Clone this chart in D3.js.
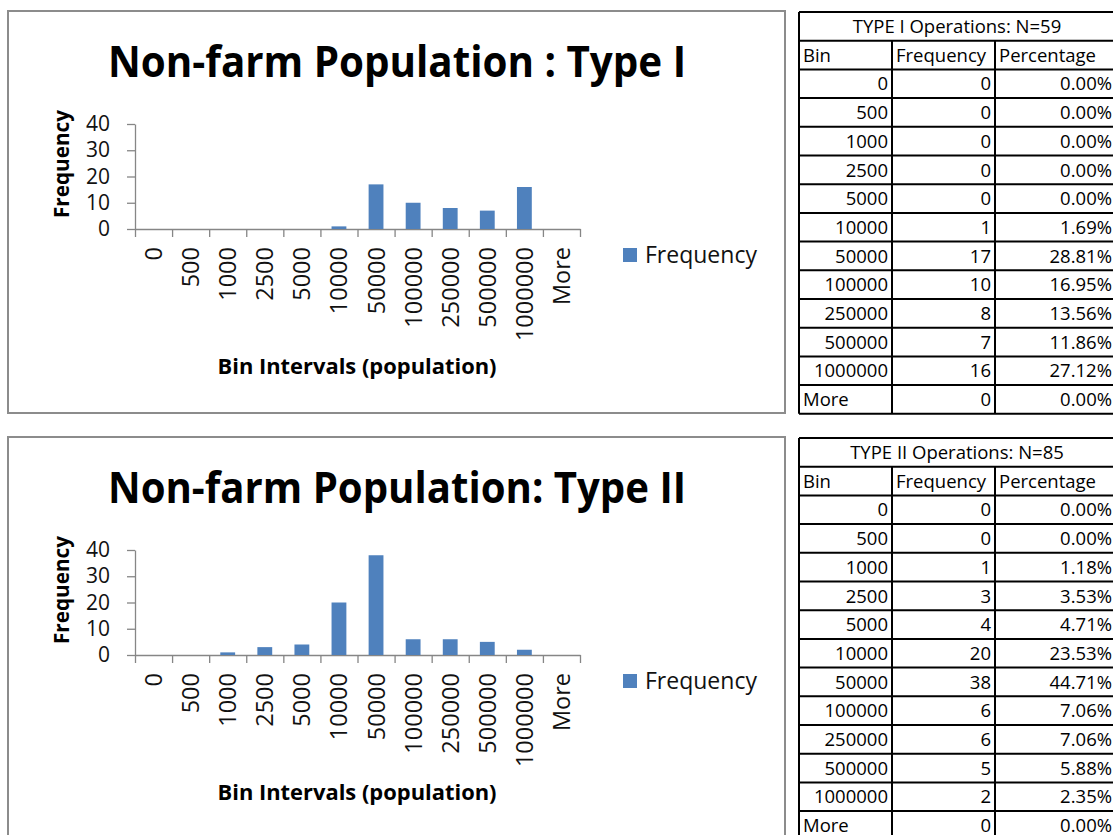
<!DOCTYPE html>
<html>
<head>
<meta charset="utf-8">
<script src="https://cdn.jsdelivr.net/npm/d3@7"></script>
<style>
html,body{margin:0;padding:0;background:#fff;}
svg{display:block;}
</style>
</head>
<body>
<script>
// ---------- data ----------
const categories = ["0","500","1000","2500","5000","10000","50000","100000","250000","500000","1000000","More"];
const freqTypeI  = [0,0,0,0,0,1,17,10,8,7,16,0];
const freqTypeII = [0,0,1,3,4,20,38,6,6,5,2,0];
const pctTypeI  = ["0.00%","0.00%","0.00%","0.00%","0.00%","1.69%","28.81%","16.95%","13.56%","11.86%","27.12%","0.00%"];
const pctTypeII = ["0.00%","0.00%","1.18%","3.53%","4.71%","23.53%","44.71%","7.06%","7.06%","5.88%","2.35%","0.00%"];
const yTicks = [0,10,20,30,40];
const chartTitles = ["Non-farm Population : Type I","Non-farm Population: Type II"];
const tableTitles = ["TYPE I Operations: N=59","TYPE II Operations: N=85"];
const tableHeaders = ["Bin","Frequency","Percentage"];
const seriesName = "Frequency";
const xTitle = "Bin Intervals (population)";
const yTitle = "Frequency";

// ---------- drawing ----------
const FONT = "'Open Sans', 'Noto Sans', sans-serif";
const BAR = "#4F81BD";
const AXIS = "#868686";

const svg = d3.select("body").append("svg").attr("width",1113).attr("height",835);

function drawChart(oy, title, values) {
  const g = svg.append("g");
  g.append("rect").attr("x",8).attr("y",oy).attr("width",777).attr("height",402)
    .attr("fill","#fff").attr("stroke","#8c8c8c").attr("stroke-width",2);

  g.append("text").attr("x",397).attr("y",oy+66).attr("text-anchor","middle")
    .attr("font-family",FONT).attr("font-weight",700).attr("font-size",43)
    .attr("textLength",578).attr("lengthAdjust","spacingAndGlyphs").text(title);

  const x = d3.scaleBand().domain(categories).range([135,580]).padding(0);
  const xi = d3.scaleLinear().domain([0,categories.length]).range([135,580]);
  const y = d3.scaleLinear().domain([0,40]).range([oy+218, oy+113]);

  // y axis
  const ya = g.append("g").attr("transform","translate(135,0)")
    .call(d3.axisLeft(y).tickValues(yTicks).tickSize(8).tickSizeOuter(0).tickPadding(17));
  ya.select(".domain").attr("stroke",AXIS).attr("stroke-width",1.3);
  ya.selectAll(".tick line").attr("stroke",AXIS).attr("stroke-width",1.3);
  ya.selectAll("text").attr("font-family",FONT).attr("font-size",21).attr("fill","#111");

  // x axis line + boundary ticks
  const xa = g.append("g").attr("transform",`translate(0,${y(0)})`)
    .call(d3.axisBottom(xi).ticks(categories.length).tickSize(8).tickSizeOuter(0).tickFormat(""));
  xa.select(".domain").attr("stroke",AXIS).attr("stroke-width",1.3);
  xa.selectAll(".tick line").attr("stroke",AXIS).attr("stroke-width",1.3);

  // bars
  g.selectAll("rect.bar").data(values).join("rect").attr("class","bar")
    .attr("x",(d,i)=>x(categories[i]) + x.bandwidth()*0.3)
    .attr("width",x.bandwidth()*0.4)
    .attr("y",d=>y(d)).attr("height",d=>y(0)-y(d))
    .attr("fill",BAR);

  // category labels
  const xl = g.append("g").attr("transform",`translate(0,${y(0)})`)
    .call(d3.axisBottom(x).tickSize(0).tickPadding(0));
  xl.select(".domain").remove();
  xl.selectAll("text").attr("transform","rotate(-90)").attr("text-anchor","end")
    .attr("x",-18).attr("y",0).attr("dy","0.36em")
    .attr("font-family",FONT).attr("font-size",23.5).attr("fill","#111");

  // axis titles
  g.append("text").attr("x",357).attr("y",oy+363).attr("text-anchor","middle")
    .attr("font-family",FONT).attr("font-weight",700).attr("font-size",22)
    .attr("textLength",279).attr("lengthAdjust","spacingAndGlyphs").text(xTitle);
  g.append("text").attr("transform",`translate(62,${oy+153}) rotate(-90)`)
    .attr("text-anchor","middle").attr("dy","0.35em")
    .attr("font-family",FONT).attr("font-weight",700).attr("font-size",21)
    .attr("textLength",108).attr("lengthAdjust","spacingAndGlyphs").text(yTitle);

  // legend
  g.append("rect").attr("x",623).attr("y",oy+237).attr("width",14).attr("height",14).attr("fill",BAR);
  g.append("text").attr("x",645).attr("y",oy+244).attr("dy","0.36em")
    .attr("font-family",FONT).attr("font-size",23).attr("fill","#111").text(seriesName);
}

function drawTable(oy, title, freqs, pcts) {
  const g = svg.append("g");
  const cols = [799, 892, 995, 1115];
  const rowH = 28.7;
  const nRows = categories.length + 2;
  const rowY = i => oy + i*rowH;
  const fs = 18.5;

  g.append("rect").attr("x",cols[0]).attr("y",oy).attr("width",cols[3]-cols[0]).attr("height",nRows*rowH).attr("fill","#fff");
  g.selectAll("line.h").data(d3.range(nRows+1)).join("line")
    .attr("x1",cols[0]).attr("x2",cols[3]).attr("y1",rowY).attr("y2",rowY)
    .attr("stroke","#000").attr("stroke-width",2);
  [cols[0], cols[3]].forEach(cx => g.append("line").attr("x1",cx).attr("x2",cx)
    .attr("y1",oy).attr("y2",rowY(nRows)).attr("stroke","#000").attr("stroke-width",2));
  [cols[1], cols[2]].forEach(cx => g.append("line").attr("x1",cx).attr("x2",cx)
    .attr("y1",rowY(1)).attr("y2",rowY(nRows)).attr("stroke","#000").attr("stroke-width",2));

  const txt = (xp, row, s, anchor) => g.append("text").attr("x",xp).attr("y",rowY(row)+rowH/2)
    .attr("dy","0.36em").attr("text-anchor",anchor)
    .attr("font-family",FONT).attr("font-size",fs).attr("fill","#000").text(s);

  txt((cols[0]+cols[3])/2, 0, title, "middle");
  tableHeaders.forEach((h,i) => txt(cols[i]+4, 1, h, "start"));
  categories.forEach((c,i) => {
    const r = i+2;
    if (c === "More") txt(cols[0]+4, r, c, "start");
    else txt(cols[1]-4, r, c, "end");
    txt(cols[2]-4, r, String(freqs[i]), "end");
    txt(cols[3]-3, r, pcts[i], "end");
  });
}

drawChart(11, chartTitles[0], freqTypeI);
drawChart(437, chartTitles[1], freqTypeII);
drawTable(12, tableTitles[0], freqTypeI, pctTypeI);
drawTable(438, tableTitles[1], freqTypeII, pctTypeII);
</script>
</body>
</html>
